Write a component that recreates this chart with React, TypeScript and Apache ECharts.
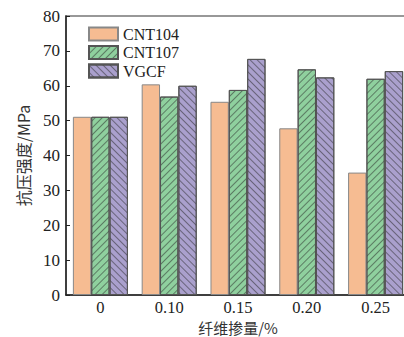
import React, { useEffect, useRef } from "react";
import * as echarts from "echarts";

const categories = ["0", "0.10", "0.15", "0.20", "0.25"];
const cnt104 = [51.1, 60.4, 55.4, 47.8, 35.1];
const cnt107 = [51.1, 56.9, 58.8, 64.7, 62.0];
const vgcf = [51.1, 60.0, 67.7, 62.4, 64.2];
const yTicks = { min: 0, max: 80, interval: 10 };

const SERIF = "'Liberation Serif', 'DejaVu Serif', serif";
const CJK = "'Noto Sans CJK SC', sans-serif";

export default function App() {
  const ref = useRef<HTMLDivElement>(null);
  useEffect(() => {
    if (!ref.current) return;
    const chart = echarts.init(ref.current, null, { renderer: "svg" });
    const hatch = (rot: number) => ({
      symbol: "rect",
      symbolSize: 1,
      dashArrayX: [1, 0],
      dashArrayY: [1, 4],
      rotation: rot,
      color: "rgba(40,40,40,0.5)",
    });
    chart.setOption({
      animation: false,
      backgroundColor: "#ffffff",
      grid: {
        left: 66,
        top: 16,
        width: 344,
        height: 279,
        show: true,
        borderColor: "#777",
        borderWidth: 1.5,
        containLabel: false,
        outerBoundsMode: "none",
      },
      legend: {
        orient: "vertical",
        left: 83,
        top: 21,
        icon: "rect",
        itemWidth: 29,
        itemHeight: 13,
        itemGap: 2.5,
        align: "left",
        textStyle: { fontFamily: SERIF, fontSize: 16, color: "#222", lineHeight: 13 },
        data: ["CNT104", "CNT107", "VGCF"],
      },
      xAxis: {
        type: "category",
        data: categories,
        name: "纤维掺量/%",
        nameLocation: "middle",
        nameGap: 24,
        nameMoveOverlap: false,
        nameTextStyle: { fontFamily: CJK, fontSize: 15, color: "#333", lineHeight: 16 },
        axisLine: { lineStyle: { color: "#222", width: 1.5 } },
        axisTick: { inside: true, alignWithLabel: true, length: 4, lineStyle: { color: "#222" } },
        axisLabel: { fontFamily: SERIF, fontSize: 16.5, color: "#222", margin: 5, lineHeight: 15 },
      },
      yAxis: {
        type: "value",
        min: yTicks.min,
        max: yTicks.max,
        interval: yTicks.interval,
        name: "抗压强度/MPa",
        nameLocation: "middle",
        nameRotate: 90,
        nameGap: 35,
        nameMoveOverlap: false,
        nameTextStyle: { fontFamily: CJK, fontSize: 16, color: "#333" },
        axisLine: { show: true, lineStyle: { color: "#222", width: 1.5 } },
        axisTick: { show: true, inside: true, length: 4, lineStyle: { color: "#222" } },
        axisLabel: { fontFamily: SERIF, fontSize: 17, color: "#222", margin: 6 },
        splitLine: { show: false },
      },
      series: [
        {
          name: "CNT104",
          type: "bar",
          data: cnt104,
          barGap: "0%",
          barCategoryGap: "20%",
          itemStyle: { color: "#F6BC92", borderColor: "#888", borderWidth: 1 },
        },
        {
          name: "CNT107",
          type: "bar",
          data: cnt107,
          barGap: "0%",
          barCategoryGap: "20%",
          itemStyle: { color: "#8FD09E", borderColor: "#555", borderWidth: 1, decal: hatch(-Math.PI / 4) },
        },
        {
          name: "VGCF",
          type: "bar",
          data: vgcf,
          barGap: "0%",
          barCategoryGap: "20%",
          itemStyle: { color: "#AAA0CD", borderColor: "#555", borderWidth: 1, decal: hatch(Math.PI / 4) },
        },
      ],
    });
    return () => chart.dispose();
  }, []);
  return (
    <div
      ref={ref}
      style={{ position: "fixed", left: 0, top: 0, width: 404, height: 337, background: "#fff" }}
    />
  );
}
